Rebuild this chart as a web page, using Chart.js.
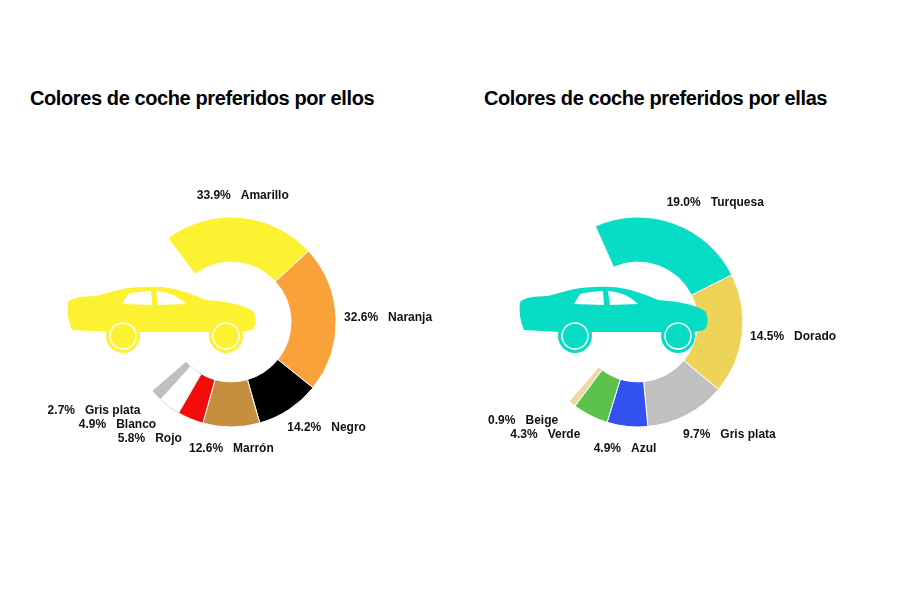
<!DOCTYPE html>
<html><head><meta charset="utf-8">
<script src="https://cdn.jsdelivr.net/npm/chart.js@4"></script>
<style>
body{margin:0;background:#fff;width:900px;height:600px;position:relative;overflow:hidden;font-family:"Liberation Sans",Arial,sans-serif}
h2{position:absolute;margin:0;font-size:20px;letter-spacing:-0.4px;font-weight:700;color:#000;top:87px}
.wrap{position:absolute;width:440px;height:340px;top:152px}
.car{position:absolute}
</style></head><body>
<div class="wrap" style="left:24px"><canvas id="c1"></canvas></div>
<div class="wrap" style="left:436px"><canvas id="c2"></canvas></div>
<h2 style="left:30px">Colores de coche preferidos por ellos</h2>
<h2 style="left:484px">Colores de coche preferidos por ellas</h2>
<svg class="car" style="left:66px;top:286px" width="192" height="68" viewBox="0 0 192 68"><g fill="#fcf232"><path d="M2 16 Q8 10 30 10 L52 4 Q70 0 95 1 Q112 2 140 14 Q175 16 188 26 Q192 38 186 44 L176 46 Q170 36 160 36 Q148 36 144 46 L72 46 Q68 36 57 36 Q45 36 42 46 L6 44 Q0 30 2 16Z"/><circle cx="57" cy="50" r="17"/><circle cx="160" cy="50" r="17"/></g><g fill="none" stroke="#fff" stroke-width="1.5"><circle cx="57" cy="50" r="13"/><circle cx="160" cy="50" r="13"/></g><path fill="#fff" d="M56 18 L62 8 Q75 5 85 5 L86 19Z M90 5 Q108 6 120 18 L92 19Z"/></svg>
<svg class="car" style="left:518px;top:286px" width="192" height="68" viewBox="0 0 192 68"><g fill="#07dcc4"><path d="M2 16 Q8 10 30 10 L52 4 Q70 0 95 1 Q112 2 140 14 Q175 16 188 26 Q192 38 186 44 L176 46 Q170 36 160 36 Q148 36 144 46 L72 46 Q68 36 57 36 Q45 36 42 46 L6 44 Q0 30 2 16Z"/><circle cx="57" cy="50" r="17"/><circle cx="160" cy="50" r="17"/></g><g fill="none" stroke="#fff" stroke-width="1.5"><circle cx="57" cy="50" r="13"/><circle cx="160" cy="50" r="13"/></g><path fill="#fff" d="M56 18 L62 8 Q75 5 85 5 L86 19Z M90 5 Q108 6 120 18 L92 19Z"/></svg>
<script>
// ── data ─────────────────────────────────────────────
const menLabels=['Amarillo','Naranja','Negro','Marrón','Rojo','Blanco','Gris plata'];
const menValues=[33.9,32.6,14.2,12.6,5.8,4.9,2.7];
const menColors=['#fcf232','#f9a23a','#000000','#c58f3d','#f40c0c','#ffffff','#c0c0c0'];
const womenLabels=['Turquesa','Dorado','Gris plata','Azul','Verde','Beige'];
const womenValues=[19.0,14.5,9.7,4.9,4.3,0.9];
const womenColors=['#07dcc4','#edd358','#c0c0c0','#3350f0','#5cc24c','#ecd9a4'];

// label drawn as "pct name" outside each slice
const outLabels={id:'outLabels',afterDatasetsDraw(chart){
  const ctx=chart.ctx, ds=chart.data.datasets[0];
  ctx.save();ctx.font='bold 12px "Liberation Sans Narrow","Liberation Sans",Arial';ctx.fillStyle='#111';ctx.textBaseline='middle';
  chart.getDatasetMeta(0).data.forEach((a,i)=>{
    const mid=(a.startAngle+a.endAngle)/2, r=a.outerRadius+22;
    const x=a.x+Math.cos(mid)*r, y=a.y+Math.sin(mid)*r;
    const t=ds.data[i].toFixed(1)+'%   '+chart.data.labels[i];
    const c=Math.cos(mid);
    ctx.textAlign=c>0.3?'left':c<-0.3?'right':'center';
    ctx.fillText(t,x-(c>0.3?14:0),y);
  });
  ctx.restore();
}};

function makeChart(id,labels,values,colors,rot,circ){
  const borders=colors.map(c=>c==='#ffffff'?'#d8d8d8':'#fff');
  new Chart(document.getElementById(id),{
    type:'doughnut',
    data:{labels,datasets:[{data:values,backgroundColor:colors,borderColor:borders,borderWidth:1,radius:105}]},
    options:{responsive:false,animation:false,rotation:rot,circumference:circ,cutout:'57%',
      plugins:{legend:{display:false},tooltip:{enabled:false}}},
    plugins:[outLabels]
  });
}
document.getElementById('c1').width=440;document.getElementById('c1').height=340;
document.getElementById('c2').width=440;document.getElementById('c2').height=340;
makeChart('c1',menLabels,menValues,menColors,-37,266);
makeChart('c2',womenLabels,womenValues,womenColors,-24,245);
</script></body></html>
